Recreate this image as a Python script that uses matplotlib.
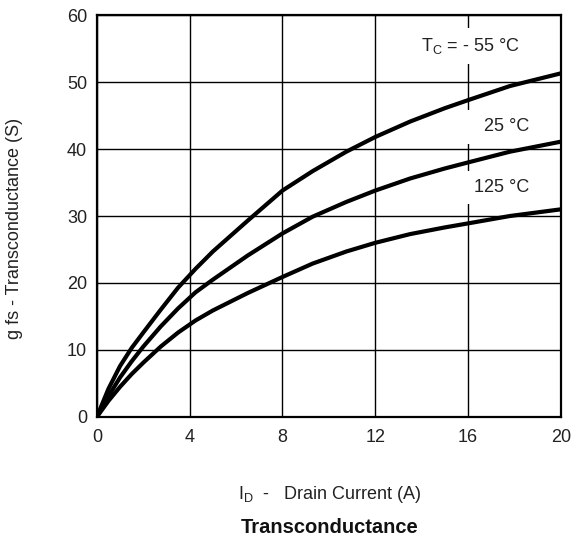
import matplotlib
matplotlib.use("Agg")
import matplotlib.pyplot as plt

# values
current = [0, 0.5, 1, 1.5, 2, 2.75, 3.5, 4.25, 5, 6.5, 8, 9.3, 10.75, 12, 13.5, 15, 16, 17.8, 20]
gfs_m55 = [0, 4.2, 7.6, 10.3, 12.6, 16.0, 19.3, 22.1, 24.7, 29.3, 33.8, 36.7, 39.6, 41.8, 44.1, 46.1, 47.3, 49.4, 51.3]
gfs_25 = [0, 3.1, 5.9, 8.3, 10.5, 13.5, 16.2, 18.6, 20.5, 24.1, 27.4, 29.9, 32.1, 33.8, 35.6, 37.1, 38.0, 39.6, 41.1]
gfs_125 = [0, 2.4, 4.5, 6.4, 8.1, 10.5, 12.6, 14.4, 15.9, 18.5, 20.9, 22.9, 24.7, 26.0, 27.3, 28.3, 28.9, 30.0, 31.0]
labels = ["T$_\\mathregular{C}$ = - 55 °C", "   25 °C", "125 °C"]
xticks = [0, 4, 8, 12, 16, 20]
yticks = [0, 10, 20, 30, 40, 50, 60]

plt.rcParams['font.family'] = ['Liberation Sans', 'DejaVu Sans']
plt.rcParams['mathtext.fontset'] = 'custom'
plt.rcParams['mathtext.rm'] = 'Liberation Sans'
plt.rcParams['mathtext.it'] = 'Liberation Sans'

fig = plt.figure(figsize=(5.73, 5.37), dpi=100)
ax = fig.add_axes([0.169, 0.2235, 0.81, 0.7485])

for g in [gfs_m55, gfs_25, gfs_125]:
    ax.plot(current, g, color='black', lw=3.0, solid_capstyle='round',
            solid_joinstyle='round', zorder=3)

ax.set_xlim(0, 20)
ax.set_ylim(0, 60)
ax.set_xticks(xticks)
ax.set_yticks(yticks)
ax.grid(True, color='black', lw=1.0)
ax.tick_params(length=0, labelsize=13, colors='#222222')
ax.tick_params(axis='y', pad=7)
ax.tick_params(axis='x', pad=9)
for s in ax.spines.values():
    s.set_linewidth(1.6)

txt = dict(fontsize=13, color='#222222', ha='center', va='center', zorder=4,
           bbox=dict(boxstyle='square,pad=0.45', fc='white', ec='none'))
ax.text(16.1, 55.4, labels[0], **txt)
ax.text(17.33, 43.3, labels[1], **txt)
ax.text(17.46, 34.3, labels[2], **txt)

fig.text(0.576, 0.08, "I$_\\mathregular{D}$  -   Drain Current (A)", fontsize=13,
         color='#222222', ha='center', va='center')
fig.text(0.576, 0.018, "Transconductance", fontsize=14.5, fontweight='bold',
         color='#111111', ha='center', va='center')
fig.text(0.026, 0.575, "g fs - Transconductance (S)", fontsize=13,
         color='#222222', ha='center', va='center', rotation=90)

fig.savefig("out.png", dpi=100)
